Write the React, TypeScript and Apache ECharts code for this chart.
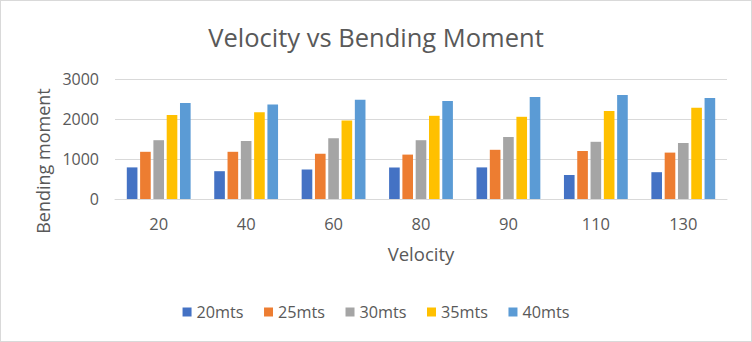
import React, { useEffect, useRef } from "react";
import * as echarts from "echarts";

const categories = ["20", "40", "60", "80", "90", "110", "130"];
const s20 = [790, 695, 740, 790, 790, 600, 670];
const s25 = [1180, 1180, 1130, 1110, 1230, 1200, 1160];
const s30 = [1470, 1450, 1520, 1470, 1550, 1430, 1400];
const s35 = [2100, 2170, 1960, 2080, 2055, 2200, 2280];
const s40 = [2400, 2360, 2480, 2450, 2550, 2600, 2525];
const seriesNames = ["20mts", "25mts", "30mts", "35mts", "40mts"];
const colors = ["#4472C4", "#ED7D31", "#A5A5A5", "#FFC000", "#5B9BD5"];
const yAxisTitle = "Bending moment";

export default function App() {
  const ref = useRef<HTMLDivElement>(null);
  useEffect(() => {
    document.body.style.margin = "0";
    const chart = echarts.init(ref.current!, null, { renderer: "svg" });
    const data = [s20, s25, s30, s35, s40];
    const font = "'Open Sans', sans-serif";
    chart.setOption({
      animation: false,
      backgroundColor: "#ffffff",
      color: colors,
      textStyle: { fontFamily: font },
      title: {
        text: "Velocity vs Bending Moment",
        left: "center",
        top: 18,
        textStyle: { fontSize: 25.5, fontWeight: "normal", color: "#595959", fontFamily: font },
      },
      legend: {
        bottom: 16,
        left: "center",
        itemWidth: 9,
        itemHeight: 9,
        itemGap: 20.5,
        icon: "rect",
        textStyle: { fontSize: 16.2, color: "#595959", fontFamily: font },
        data: seriesNames,
      },
      graphic: [
        {
          type: "text",
          x: 42,
          y: 160,
          rotation: Math.PI / 2,
          style: {
            text: yAxisTitle,
            fontSize: 18,
            fontFamily: font,
            fill: "#595959",
            align: "center",
            verticalAlign: "middle",
          },
        },
      ],
      grid: { left: 114, right: 24, top: 78, bottom: 142, containLabel: false },
      xAxis: {
        type: "category",
        data: categories,
        name: "Velocity",
        nameLocation: "middle",
        nameGap: 45,
        nameTextStyle: { fontSize: 18.5, color: "#595959" },
        axisLine: { lineStyle: { color: "#d9d9d9", width: 1 } },
        axisTick: { show: false },
        axisLabel: { fontSize: 16.5, color: "#595959", margin: 16 },
      },
      yAxis: {
        type: "value",
        min: 0,
        max: 3000,
        interval: 1000,
        axisLine: { show: false },
        axisTick: { show: false },
        axisLabel: { fontSize: 16, color: "#595959", margin: 16, formatter: (v: number) => String(v) },
        splitLine: { lineStyle: { color: "#d9d9d9", width: 1 } },
      },
      series: seriesNames.map((n, i) => ({
        name: n,
        type: "bar",
        data: data[i],
        barGap: "25%",
        barCategoryGap: "27%",
        itemStyle: { color: colors[i] },
      })),
    });
    return () => chart.dispose();
  }, []);
  return (
    <div
      ref={ref}
      style={{ width: 752, height: 342, boxSizing: "border-box", border: "1px solid #d9d9d9" }}
    />
  );
}
